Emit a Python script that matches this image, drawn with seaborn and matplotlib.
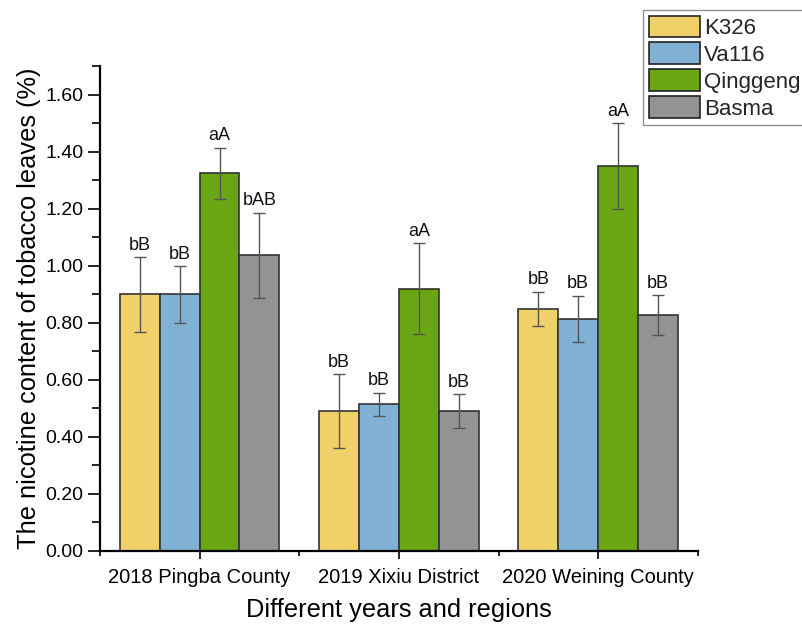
import numpy as np
import pandas as pd
import matplotlib
matplotlib.use("Agg")
import matplotlib.pyplot as plt
from matplotlib.ticker import MultipleLocator, FormatStrFormatter
import seaborn as sns

# Sites (x categories) and varieties (hue)
regions = ["2018 Pingba County", "2019 Xixiu District", "2020 Weining County"]
varieties = ["K326", "Va116", "Qinggeng", "Basma"]

# Mean nicotine content (%) per variety, one value per region
k326 = [0.90, 0.49, 0.85]
va116 = [0.90, 0.515, 0.815]
qinggeng = [1.325, 0.92, 1.35]
basma = [1.037, 0.49, 0.828]

# Standard deviations
k326_err = [0.13, 0.13, 0.06]
va116_err = [0.10, 0.04, 0.08]
qinggeng_err = [0.09, 0.16, 0.15]
basma_err = [0.15, 0.06, 0.07]

# Significance letters
k326_sig = ["bB", "bB", "bB"]
va116_sig = ["bB", "bB", "bB"]
qinggeng_sig = ["aA", "aA", "aA"]
basma_sig = ["bAB", "bB", "bB"]

colors = ["#F0D069", "#80B0D4", "#6AA514", "#939393"]

means = {"K326": k326, "Va116": va116, "Qinggeng": qinggeng, "Basma": basma}
errs = {"K326": k326_err, "Va116": va116_err, "Qinggeng": qinggeng_err, "Basma": basma_err}
sigs = {"K326": k326_sig, "Va116": va116_sig, "Qinggeng": qinggeng_sig, "Basma": basma_sig}

rows = []
for v in varieties:
    for i, r in enumerate(regions):
        rows.append({"region": r, "variety": v, "value": means[v][i],
                     "err": errs[v][i], "sig": sigs[v][i]})
df = pd.DataFrame(rows)

sns.set_theme(style="ticks")
plt.rcParams["font.family"] = ["Liberation Sans", "DejaVu Sans"]

fig = plt.figure(figsize=(8.03, 6.24), dpi=100)
ax = fig.add_axes([0.1245, 0.117, 0.7445, 0.7765])

sns.barplot(data=df, x="region", y="value", hue="variety", order=regions,
            hue_order=varieties, palette=colors, errorbar=None, width=0.8,
            edgecolor="#333333", linewidth=1.2, saturation=1, ax=ax, legend=False)

# Error bars and letters placed on each bar's own centre
for container, v in zip(ax.containers, varieties):
    sub = df[df["variety"] == v].set_index("region").loc[regions]
    for patch, (_, row) in zip(container.patches, sub.iterrows()):
        xc = patch.get_x() + patch.get_width() / 2
        h = patch.get_height()
        ax.errorbar(xc, h, yerr=row["err"], fmt="none", ecolor="#555555",
                    elinewidth=1.0, capsize=4.5, capthick=1.0, zorder=3)
        ax.text(xc, h + row["err"] + 0.012, row["sig"], ha="center", va="bottom",
                fontsize=13, color="#111111")

ax.set_xlim(-0.5, 2.5)
ax.set_ylim(0, 1.7)
ax.yaxis.set_major_locator(MultipleLocator(0.2))
ax.yaxis.set_minor_locator(MultipleLocator(0.1))
ax.yaxis.set_major_formatter(FormatStrFormatter("%.2f"))
ax.set_xticks([0, 1, 2])
ax.set_xticks([-0.5, 0.5, 1.5, 2.5], minor=True)
ax.set_xticklabels(regions)

for s in ["top", "right"]:
    ax.spines[s].set_visible(False)
for s in ["left", "bottom"]:
    ax.spines[s].set_linewidth(1.6)
    ax.spines[s].set_color("black")

ax.tick_params(axis="y", which="major", length=9, width=1.2, labelsize=14, colors="black", pad=3)
ax.tick_params(axis="y", which="minor", length=6, width=1.2, colors="black")
ax.tick_params(axis="x", which="major", length=6, width=1.2, labelsize=14.5, colors="black", pad=6)
ax.tick_params(axis="x", which="minor", length=3.5, width=1.2, colors="black")

ax.set_xlabel("Different years and regions", fontsize=18.3, labelpad=8, color="black")
ax.set_ylabel("The nicotine content of tobacco leaves (%)", fontsize=18.3, labelpad=3, color="black")

handles = [matplotlib.patches.Patch(facecolor=c, edgecolor="#222222", linewidth=1.2)
           for c in colors]
leg = fig.legend(handles, varieties, loc="upper left",
                 bbox_to_anchor=(643 / 803, 1 - 10 / 624), fontsize=16,
                 frameon=True, fancybox=False, edgecolor="#777777",
                 handlelength=2.3, handleheight=1.12, labelspacing=0.16,
                 handletextpad=0.2, borderpad=0.25, borderaxespad=0)
leg.get_frame().set_linewidth(1.0)

fig.savefig("out.png", dpi=100)
